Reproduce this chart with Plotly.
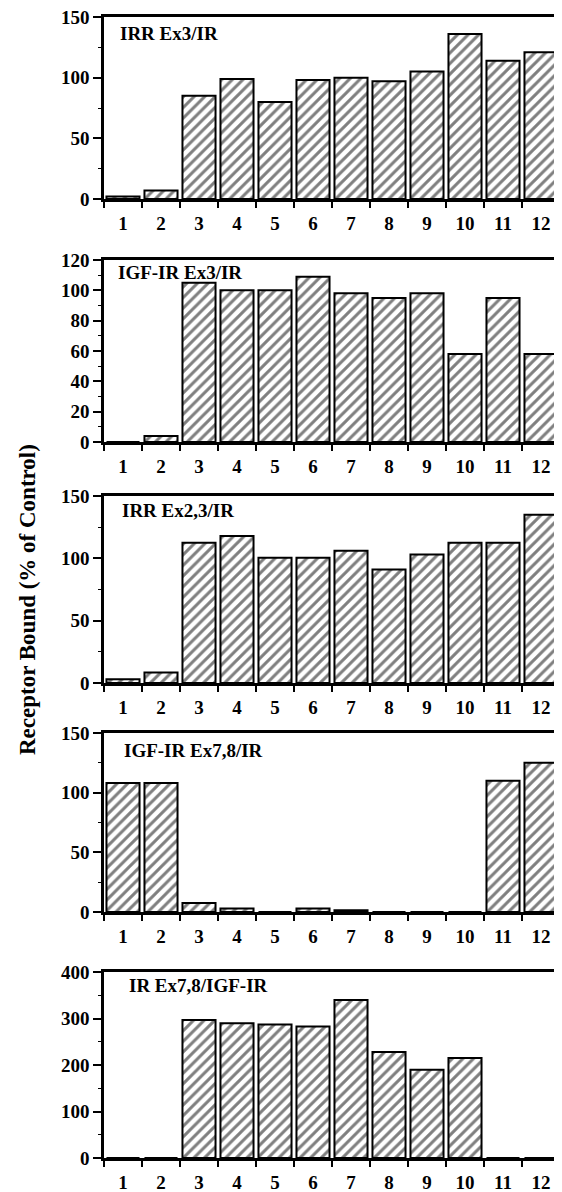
import plotly.graph_objects as go
from plotly.subplots import make_subplots

lanes = [str(i) for i in range(1, 13)]

irr_ex3 = [2, 7, 85, 99, 80, 98, 100, 97, 105, 136, 114, 121]
igf_ex3 = [0, 4, 105, 100, 100, 109, 98, 95, 98, 58, 95, 58]
irr_ex23 = [3, 8.5, 112.5, 118, 100.5, 100.5, 106, 91, 103, 112.5, 112.5, 135]
igf_ex78 = [108, 108, 7.5, 3, 0, 3, 1.5, 0, 0, 0, 110, 125]
ir_ex78 = [0, 0, 297, 290, 287, 283, 340, 228, 190, 215, 0, 0]

series = [irr_ex3, igf_ex3, irr_ex23, igf_ex78, ir_ex78]
labels = ["IRR Ex3/IR", "IGF-IR Ex3/IR", "IRR Ex2,3/IR", "IGF-IR Ex7,8/IR", "IR Ex7,8/IGF-IR"]
yranges = [150, 120, 150, 150, 400]
dticks = [50, 20, 50, 50, 100]

# page body has an 8px margin at top/left; figure fills the rest of the window
OFF = 8
W = 562 - OFF
H = 1192 - OFF
panel_px = [(17, 199), (260, 442), (496, 683), (733, 912), (972, 1158)]
label_px = [(118, 33), (116, 272), (120, 510), (122, 750), (127, 985)]

FONT = "Liberation Serif"


def fx(px):
    return (px - OFF) / W


def fy(py):
    return 1 - (py - OFF) / H


X0 = 104
X1 = 560

fig = make_subplots(rows=5, cols=1)

for i, vals in enumerate(series):
    r = i + 1
    fig.add_trace(go.Bar(
        x=lanes, y=vals, showlegend=False, cliponaxis=True,
        marker=dict(color="white",
                    line=dict(color="black", width=2),
                    pattern=dict(shape="/", fgcolor="black", bgcolor="white",
                                 size=7.5, solidity=0.4)),
    ), row=r, col=1)
    top, bot = panel_px[i]
    xa = "xaxis" if r == 1 else f"xaxis{r}"
    ya = "yaxis" if r == 1 else f"yaxis{r}"
    fig.layout[xa].update(
        domain=[fx(X0), fx(X1)], type="category", tickson="boundaries",
        range=[-0.5, 11.5], automargin=False, ticklabeloverflow="allow",
        ticks="outside", ticklen=6, tickwidth=2, tickcolor="black",
        showline=True, linewidth=3, linecolor="black", mirror=True,
        showgrid=False, zeroline=False, ticklabelstandoff=5,
        tickfont=dict(family=FONT, size=19, color="black", weight="bold"),
    )
    fig.layout[ya].update(
        domain=[fy(bot), fy(top)], range=[0, yranges[i]], automargin=False,
        ticklabeloverflow="allow",
        dtick=dticks[i], tick0=0, ticks="outside", ticklen=8, tickwidth=2,
        tickcolor="black", showline=True, linewidth=2.5, linecolor="black",
        showgrid=False, zeroline=False,
        minor=dict(dtick=dticks[i] / 2, ticks="outside", ticklen=3,
                   tickwidth=1, tickcolor="black", showgrid=False),
        tickfont=dict(family=FONT, size=19, color="black", weight="bold"),
    )
    lx, ly = label_px[i]
    fig.add_annotation(x=fx(lx), y=fy(ly), xref="paper", yref="paper",
                       text=labels[i], showarrow=False, xanchor="left",
                       yanchor="middle",
                       font=dict(family=FONT, size=19, color="black", weight="bold"))

fig.add_annotation(x=fx(27), y=fy(600), xref="paper", yref="paper",
                   text="Receptor Bound (% of Control)", showarrow=False,
                   textangle=-90, xanchor="center", yanchor="middle",
                   font=dict(family=FONT, size=23, color="black", weight="bold"))

fig.update_layout(width=W, height=H,
                  margin=dict(l=0, r=0, t=0, b=0, pad=0, autoexpand=False),
                  paper_bgcolor="white", plot_bgcolor="white",
                  showlegend=False, bargap=0.13)

fig.write_html("out.html")
